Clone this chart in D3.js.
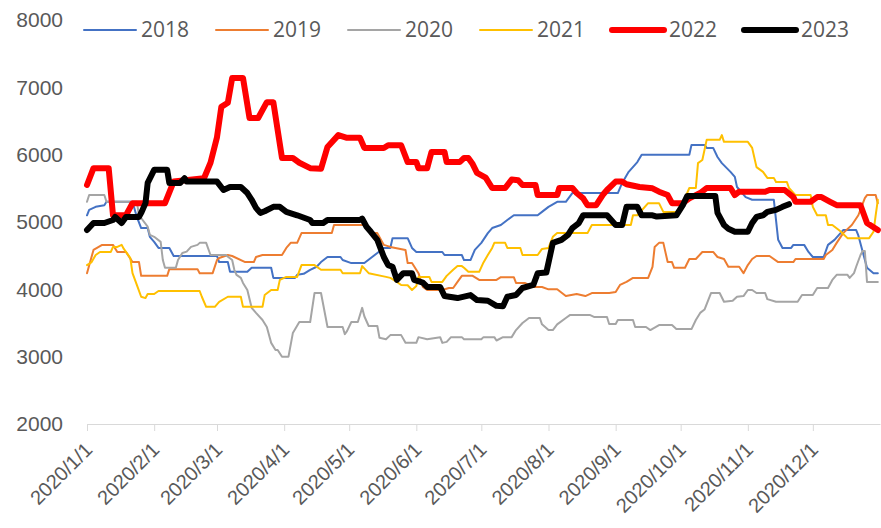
<!DOCTYPE html>
<html lang="zh">
<head>
    <meta charset="UTF-8">
    <title>2018-2023 走势对比</title>
    <script src="https://d3js.org/d3.v7.min.js"></script>
    <style>
        body {
            margin: 0;
            background: #fff;
        }
        svg {
            display: block;
            font-family: "Open Sans", "Noto Sans", sans-serif;
        }
        .axis text, .legend text {
            fill: #595959;
            font-size: 21px;
        }
        .x-axis text {
            font-size: 20px;
        }
        .axis path, .axis line {
            stroke: #d9d9d9;
        }
    </style>
</head>
<body>
    <div id="chart"></div>
    <script>
        // 年份与样式
        const years = ["2018", "2019", "2020", "2021", "2022", "2023"];
        const colors = ["#4472c4", "#ed7d31", "#a5a5a5", "#ffc000", "#ff0000", "#000000"];
        const lineWidths = [2, 2, 2, 2, 6, 6];
        const yTicks = [2000, 3000, 4000, 5000, 6000, 7000, 8000];

        // 数据: [一年中的第几天(0 = 1月1日), 数值]
        const s2018 = [[0,5100],[1,5180],[4,5225],[8,5250],[9,5300],[21,5300],[23,5075],[25,4910],[28,4910],[29,4780],[31,4705],[33,4615],[38,4615],[40,4495],[60,4495],[61,4405],[65,4405],[66,4260],[74,4260],[76,4320],[85,4320],[86,4170],[96,4170],[97,4215],[100,4230],[103,4290],[106,4335],[108,4405],[111,4480],[117,4480],[118,4435],[122,4390],[128,4390],[131,4465],[134,4540],[137,4615],[140,4615],[141,4760],[148,4760],[150,4615],[152,4555],[164,4555],[165,4510],[173,4510],[174,4435],[177,4435],[179,4585],[182,4690],[185,4835],[187,4910],[191,4955],[194,5030],[197,5100],[208,5100],[210,5150],[213,5225],[217,5300],[221,5300],[224,5430],[245,5430],[247,5580],[250,5745],[254,5890],[256,6000],[278,6000],[279,6145],[285,6145],[286,6100],[289,6100],[291,5965],[293,5875],[297,5745],[299,5670],[300,5520],[304,5370],[307,5330],[317,5330],[319,4735],[321,4615],[325,4615],[326,4660],[331,4660],[333,4555],[335,4480],[340,4480],[342,4660],[345,4735],[349,4880],[355,4880],[356,4800],[360,4320],[363,4240],[365,4240]];
        const s2019 = [[0,4240],[3,4585],[7,4660],[12,4660],[14,4555],[18,4555],[21,4405],[24,4405],[25,4200],[37,4200],[38,4300],[51,4300],[52,4240],[58,4240],[60,4435],[61,4465],[65,4510],[67,4495],[73,4405],[77,4405],[78,4480],[81,4510],[90,4510],[92,4615],[94,4690],[97,4690],[99,4835],[113,4835],[114,4955],[128,4955],[131,4835],[134,4835],[137,4660],[140,4630],[147,4585],[148,4390],[150,4390],[153,4240],[155,4035],[157,3990],[164,3990],[167,4020],[169,4020],[171,4110],[173,4200],[178,4200],[181,4140],[189,4140],[191,4180],[197,4180],[198,4095],[202,4095],[206,4035],[210,4035],[213,4000],[217,4000],[221,3900],[226,3930],[230,3900],[233,3945],[241,3945],[244,3960],[246,4065],[249,4110],[252,4170],[259,4170],[261,4335],[262,4630],[264,4690],[266,4690],[268,4405],[270,4405],[271,4320],[276,4320],[278,4450],[281,4450],[284,4555],[289,4555],[291,4480],[294,4450],[296,4335],[301,4335],[303,4240],[305,4360],[307,4450],[309,4495],[315,4495],[319,4405],[326,4405],[327,4450],[340,4450],[341,4510],[344,4585],[346,4690],[349,4835],[353,4955],[356,5100],[359,5355],[360,5400],[364,5400],[365,5280]];
        const s2020 = [[0,5300],[1,5400],[8,5400],[9,5300],[23,5300],[24,5100],[28,4930],[29,4810],[31,4780],[34,4705],[35,4435],[36,4320],[41,4320],[42,4435],[44,4540],[46,4560],[48,4630],[51,4660],[52,4690],[55,4690],[57,4510],[64,4510],[67,4435],[68,4290],[69,4215],[71,4170],[72,4095],[74,3990],[76,3725],[78,3650],[81,3545],[83,3440],[85,3205],[87,3100],[88,3100],[90,3000],[93,3000],[95,3350],[98,3515],[103,3515],[105,3945],[108,3945],[111,3440],[118,3440],[119,3335],[120,3380],[122,3515],[125,3515],[127,3725],[128,3600],[130,3455],[134,3455],[135,3280],[138,3260],[140,3320],[145,3320],[147,3205],[152,3205],[153,3290],[157,3260],[163,3290],[164,3205],[166,3220],[168,3290],[173,3290],[174,3260],[182,3260],[183,3290],[188,3290],[189,3240],[192,3290],[196,3290],[198,3395],[201,3500],[204,3575],[209,3575],[210,3480],[213,3395],[215,3395],[217,3480],[221,3575],[223,3620],[232,3620],[234,3590],[240,3590],[241,3485],[244,3485],[245,3545],[252,3545],[253,3440],[258,3440],[260,3395],[264,3470],[270,3470],[272,3410],[279,3410],[281,3545],[283,3650],[285,3700],[288,3945],[292,3945],[294,3815],[298,3830],[300,3890],[303,3900],[305,3990],[307,3990],[309,3945],[313,3945],[314,3855],[318,3815],[328,3815],[330,3915],[335,3915],[337,4020],[342,4020],[344,4140],[346,4215],[351,4215],[352,4170],[354,4240],[355,4335],[357,4510],[358,4570],[359,4570],[360,4110],[365,4110]];
        const s2021 = [[0,4360],[2,4400],[4,4510],[6,4555],[11,4555],[12,4630],[14,4630],[16,4660],[17,4600],[20,4465],[21,4240],[23,4065],[25,3890],[27,3870],[28,3930],[31,3930],[33,3975],[52,3975],[53,3890],[55,3740],[59,3740],[61,3815],[65,3890],[71,3890],[72,3740],[81,3740],[82,3915],[85,3990],[88,3990],[89,4140],[92,4185],[97,4185],[99,4360],[105,4360],[108,4290],[117,4290],[118,4240],[126,4240],[127,4345],[130,4240],[138,4185],[140,4170],[143,4110],[145,4065],[148,4060],[150,3990],[152,4050],[153,4185],[158,4185],[159,4110],[164,4110],[166,4200],[169,4290],[171,4345],[173,4345],[174,4320],[176,4260],[181,4260],[183,4400],[185,4510],[187,4615],[188,4690],[193,4690],[194,4615],[200,4615],[201,4510],[208,4510],[210,4600],[213,4615],[215,4780],[217,4835],[231,4835],[233,4955],[251,4955],[252,5100],[254,5100],[259,5280],[264,5280],[266,5150],[272,5150],[275,5280],[278,5505],[281,5505],[282,5875],[284,5920],[286,6220],[292,6220],[293,6290],[294,6190],[305,6190],[307,6100],[309,5815],[312,5745],[314,5655],[317,5655],[318,5595],[323,5595],[324,5505],[327,5400],[334,5400],[335,5225],[337,5100],[341,5100],[342,4955],[344,4955],[347,4880],[348,4855],[351,4760],[361,4760],[363,4855],[364,5100],[365,5330]];
        const s2022 = [[0,5550],[3,5800],[10,5800],[12,5100],[18,5100],[21,5280],[36,5280],[40,5600],[54,5650],[57,5880],[60,6260],[62,6710],[65,6770],[67,7140],[72,7140],[75,6545],[79,6545],[83,6780],[86,6780],[90,5950],[95,5950],[98,5880],[103,5800],[108,5790],[111,6115],[116,6290],[120,6250],[126,6250],[128,6100],[137,6100],[139,6140],[145,6140],[148,5890],[152,5890],[153,5800],[157,5800],[159,6040],[165,6040],[166,5890],[172,5890],[174,5950],[176,5950],[178,5860],[180,5730],[184,5660],[187,5505],[193,5505],[196,5630],[199,5620],[201,5550],[207,5550],[208,5400],[217,5400],[218,5505],[224,5505],[226,5430],[229,5350],[231,5250],[235,5250],[238,5400],[240,5475],[244,5600],[247,5600],[249,5560],[255,5520],[261,5500],[264,5450],[268,5400],[270,5280],[275,5280],[278,5350],[283,5430],[286,5505],[297,5505],[299,5400],[301,5450],[313,5450],[315,5475],[322,5475],[326,5370],[327,5300],[334,5300],[337,5370],[339,5370],[343,5300],[346,5250],[357,5250],[360,4985],[365,4880]];
        const s2023 = [[0,4880],[3,4985],[8,4985],[12,5030],[13,5075],[16,4985],[18,5075],[24,5075],[25,5135],[27,5280],[28,5580],[31,5775],[37,5775],[38,5580],[43,5580],[45,5650],[46,5600],[60,5600],[63,5475],[66,5520],[71,5520],[74,5430],[76,5330],[78,5210],[80,5135],[82,5160],[86,5225],[89,5225],[92,5150],[97,5100],[103,5030],[104,4985],[109,4985],[111,5030],[126,5030],[127,5050],[129,4930],[131,4855],[134,4735],[137,4480],[139,4360],[141,4335],[143,4140],[146,4240],[150,4240],[151,4140],[155,4100],[157,4035],[163,4035],[165,3900],[171,3870],[177,3915],[180,3840],[185,3830],[189,3755],[192,3750],[194,3890],[198,3915],[201,4020],[206,4065],[208,4240],[212,4250],[215,4690],[219,4735],[222,4810],[224,4910],[227,4985],[229,5100],[240,5100],[244,4955],[247,4955],[249,5225],[254,5225],[256,5100],[261,5100],[263,5080],[272,5100],[275,5250],[277,5385],[290,5385],[291,5135],[294,4955],[296,4900],[299,4855],[305,4855],[307,4985],[309,5075],[312,5100],[314,5150],[318,5180],[321,5225],[324,5265]];
        const seriesData = [s2018, s2019, s2020, s2021, s2022, s2023];

        const width = 881;
        const height = 528;
        const margin = { top: 20, right: 1, bottom: 104, left: 87 };
        const start = new Date(2020, 0, 1);
        const toDate = d => d3.timeDay.offset(start, d);

        const x = d3.scaleTime()
            .domain([start, new Date(2021, 0, 1)])
            .range([margin.left, width - margin.right]);

        const y = d3.scaleLinear()
            .domain([2000, 8000])
            .range([height - margin.bottom, margin.top]);

        const svg = d3.select("#chart")
            .append("svg")
            .attr("width", width)
            .attr("height", height);

        // Y轴 (无轴线)
        const yAxis = svg.append("g")
            .attr("class", "axis")
            .attr("transform", `translate(${margin.left},0)`)
            .call(d3.axisLeft(y)
                .tickValues(yTicks)
                .tickFormat(d3.format("d"))
                .tickSize(0)
                .tickPadding(24));
        yAxis.select(".domain").remove();

        // X轴, 标签旋转 -45 度
        const xAxis = svg.append("g")
            .attr("class", "axis x-axis")
            .attr("transform", `translate(0,${height - margin.bottom})`)
            .call(d3.axisBottom(x)
                .tickValues(d3.timeMonth.range(start, new Date(2021, 0, 1)))
                .tickFormat(d3.timeFormat("%Y/%-m/%-d"))
                .tickSize(7)
                .tickSizeOuter(0));
        xAxis.selectAll("text")
            .attr("x", 0)
            .attr("y", 0)
            .attr("dy", 0)
            .attr("text-anchor", "end")
            .attr("transform", "translate(6,27) rotate(-45)");

        // 折线
        const line = d3.line()
            .x(d => x(toDate(d[0])))
            .y(d => y(d[1]));

        svg.append("g")
            .selectAll("path")
            .data(seriesData)
            .enter()
            .append("path")
            .attr("d", line)
            .attr("fill", "none")
            .attr("stroke", (d, i) => colors[i])
            .attr("stroke-width", (d, i) => lineWidths[i])
            .attr("stroke-linejoin", "round")
            .attr("stroke-linecap", "round");

        // 图例
        const legend = svg.append("g")
            .attr("class", "legend")
            .attr("transform", "translate(84,30)");

        const items = legend.selectAll("g")
            .data(years)
            .enter()
            .append("g")
            .attr("transform", (d, i) => `translate(${i * 132},0)`);

        items.append("line")
            .attr("x1", 0)
            .attr("x2", 52)
            .attr("stroke", (d, i) => colors[i])
            .attr("stroke-width", (d, i) => lineWidths[i])
            .attr("stroke-linecap", "round");

        items.append("text")
            .attr("x", 57)
            .attr("dy", "0.35em")
            .text(d => d);
    </script>
</body>
</html>
